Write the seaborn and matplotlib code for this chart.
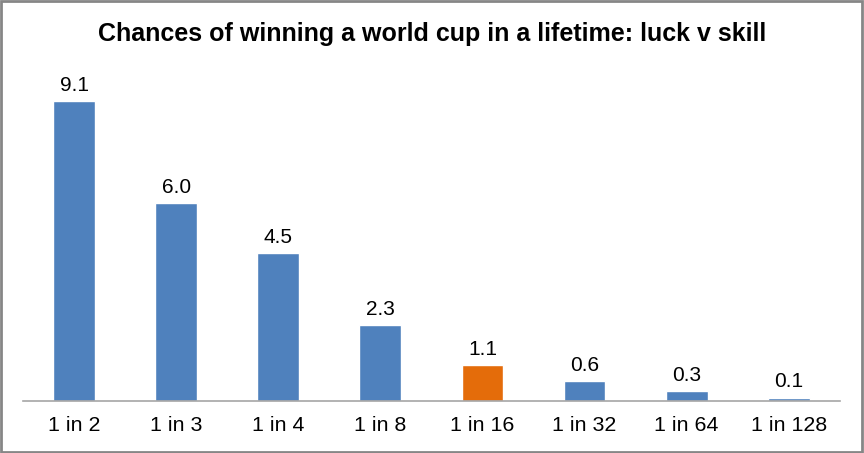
import matplotlib
matplotlib.use("Agg")
import matplotlib.pyplot as plt
import seaborn as sns
import pandas as pd

categories = ["1 in 2", "1 in 3", "1 in 4", "1 in 8", "1 in 16", "1 in 32", "1 in 64", "1 in 128"]
chances = [9.1, 6.0, 4.5, 2.3, 1.1, 0.6, 0.3, 0.1]
highlight = ["no", "no", "no", "no", "yes", "no", "no", "no"]

df = pd.DataFrame({"odds": categories, "chance": chances, "hl": highlight})

sns.set_style("white")
plt.rcParams["font.family"] = ["Liberation Sans", "DejaVu Sans"]
plt.rcParams["text.color"] = "black"
plt.rcParams["xtick.color"] = "black"

fig = plt.figure(figsize=(8.64, 4.53), dpi=100)
ax = fig.add_axes([0.0266, 0.1148, 0.9454, 0.7282])

sns.barplot(data=df, x="odds", y="chance", hue="hl",
            palette={"no": "#4F81BD", "yes": "#E46C0A"},
            width=0.41, dodge=False, legend=False, saturation=1, ax=ax)

for i, v in enumerate(chances):
    ax.text(i, max(v, 0.13) + 0.18, f"{v:.1f}", ha="center", va="bottom", fontsize=15, color="black")

ax.set_ylim(0, 10)
ax.set_xlim(-0.5, len(categories) - 0.5)
ax.set_xlabel("")
ax.set_ylabel("")
ax.set_yticks([])
for s in ["top", "left", "right"]:
    ax.spines[s].set_visible(False)
ax.spines["bottom"].set_color("#A6A6A6")
ax.spines["bottom"].set_linewidth(1.2)
ax.tick_params(axis="x", length=0, pad=11, labelsize=15.4, labelcolor="black")

fig.text(0.5, 0.925, "Chances of winning a world cup in a lifetime: luck v skill",
         ha="center", va="center", fontsize=18, fontweight="bold", color="black")

border = plt.Rectangle((0.001, 0.002), 0.997, 0.995, transform=fig.transFigure,
                       fill=False, edgecolor="#868686", linewidth=2)
fig.patches.append(border)

fig.savefig("out.png", dpi=100)
